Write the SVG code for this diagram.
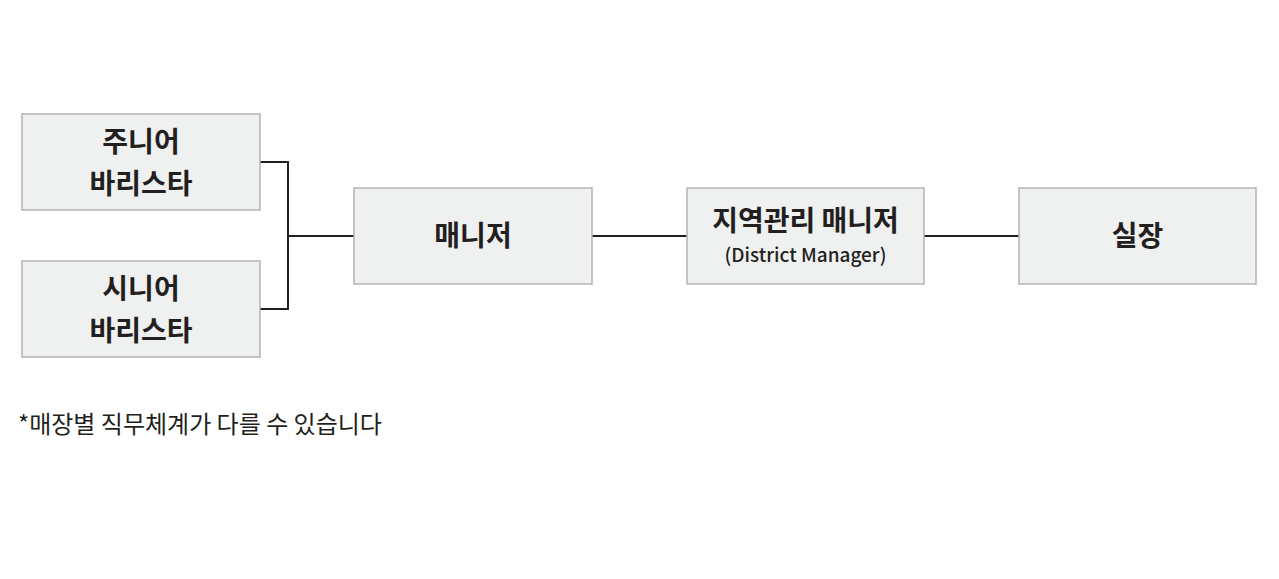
<svg xmlns="http://www.w3.org/2000/svg" width="1279" height="579" viewBox="0 0 1279 579">
<style>
.box{fill:#eff0f0;stroke:#b3b3b3;stroke-width:1.5}
.lbl{font-family:"Noto Sans CJK KR","Noto Sans",sans-serif;font-weight:700;font-size:28px;fill:#231f20;text-anchor:middle}
.sub{font-family:"Noto Sans CJK KR","Noto Sans",sans-serif;font-weight:500;font-size:19px;fill:#231f20;text-anchor:middle}
.note{font-family:"Noto Sans CJK KR","Noto Sans",sans-serif;font-weight:400;font-size:24px;fill:#231f20}
.con{fill:none;stroke:#231f20;stroke-width:2}
</style>
<rect width="1279" height="579" fill="#ffffff"/>
<g id="connectors">
<path class="con" d="M260,162 H288 V309 H260"/>
<path class="con" d="M288,236 H354"/>
<path class="con" d="M592,236 H687"/>
<path class="con" d="M924,236 H1019"/>
</g>
<g id="junior">
<rect class="box" x="22" y="114" width="238" height="96"/>
<text class="lbl" x="141" y="152">주니어</text>
<text class="lbl" x="141" y="194">바리스타</text>
</g>
<g id="senior">
<rect class="box" x="22" y="261" width="238" height="96"/>
<text class="lbl" x="141" y="299">시니어</text>
<text class="lbl" x="141" y="341">바리스타</text>
</g>
<g id="manager">
<rect class="box" x="354" y="188" width="238" height="96"/>
<text class="lbl" x="473" y="246">매니저</text>
</g>
<g id="district">
<rect class="box" x="687" y="188" width="237" height="96"/>
<text class="lbl" x="805.5" y="231">지역관리 매니저</text>
<text class="sub" x="805.5" y="262">(District Manager)</text>
</g>
<g id="chief">
<rect class="box" x="1019" y="188" width="237" height="96"/>
<text class="lbl" x="1137.5" y="246">실장</text>
</g>
<text class="note" x="18" y="433">*매장별 직무체계가 다를 수 있습니다</text>
</svg>
